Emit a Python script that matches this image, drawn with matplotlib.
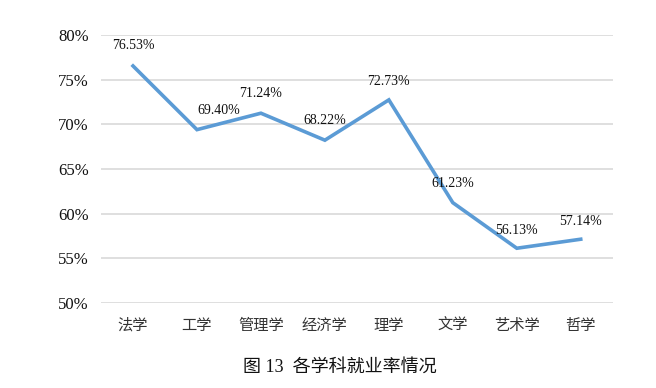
import matplotlib.pyplot as plt
from matplotlib.ticker import PercentFormatter

# data
subjects = ['法学', '工学', '管理学', '经济学', '理学', '文学', '艺术学', '哲学']
rates = [76.53, 69.40, 71.24, 68.22, 72.73, 61.23, 56.13, 57.14]
y_ticks = [50, 55, 60, 65, 70, 75, 80]

# label placement (points offset from each marker)
label_dx = [0, 16, 0, 0, 0, 0, 0, 0]
label_dy = [15, 14, 14, 14, 13, 14, 13, 13]

serif = ['Liberation Serif', 'Noto Sans CJK SC']
cjk = ['Noto Sans CJK SC', 'DejaVu Sans']

fig = plt.figure(figsize=(6.56, 3.88), dpi=100)
ax = fig.add_axes([0.154, 0.219, 0.78, 0.691])

x = list(range(len(subjects)))
ax.plot(x, rates, color='#5B9BD5', linewidth=2.6, solid_joinstyle='miter', zorder=3)

for xi, r, dx, dy in zip(x, rates, label_dx, label_dy):
    ax.annotate(f'{r:.2f}%', (xi, r), xytext=(dx, dy), textcoords='offset points',
                ha='center', va='center', fontsize=10, family=serif, color='#111111')

ax.set_xlim(-0.5, len(subjects) - 0.5)
ax.set_ylim(50, 80)
ax.set_yticks(y_ticks)
ax.yaxis.set_major_formatter(PercentFormatter(decimals=0))
ax.set_xticks(x)
ax.set_xticklabels(subjects, family=cjk, fontsize=11, color='#333333')
for lbl in ax.get_yticklabels():
    lbl.set_family(serif)
    lbl.set_fontsize(12)
    lbl.set_color('#111111')

ax.grid(axis='y', color='#D9D9D9', linewidth=1.2)
ax.set_axisbelow(True)
ax.tick_params(axis='y', length=0, pad=9)
ax.tick_params(axis='x', length=0, pad=10)
for s in ax.spines.values():
    s.set_visible(False)

fig.text(0.518, 0.054, '图 13  各学科就业率情况', ha='center', va='center',
         fontsize=13, family=serif, color='#111111')

fig.savefig('out.png', dpi=100)
